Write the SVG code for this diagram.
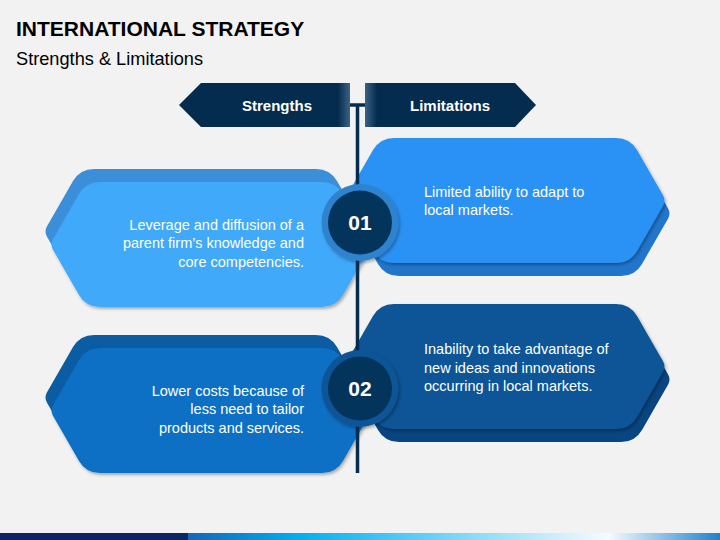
<svg xmlns="http://www.w3.org/2000/svg" width="720" height="540" viewBox="0 0 720 540">
<style>
.title{font-family:"Liberation Sans",Arial,sans-serif;font-weight:bold;font-size:21px;fill:#000}
.sub{font-family:"Liberation Sans",Arial,sans-serif;font-size:18.2px;fill:#000}
.hdr{font-family:"Liberation Sans",Arial,sans-serif;font-weight:bold;font-size:15px;fill:#fff;text-anchor:middle}
.body{font-family:"Liberation Sans",Arial,sans-serif;font-size:14.5px;fill:#fff}
.r{text-anchor:end}
.num{font-family:"Liberation Sans",Arial,sans-serif;font-weight:bold;font-size:21px;fill:#fff;text-anchor:middle}
.line{stroke:#032c4f;stroke-width:3.5;fill:none}
.inner{fill:#03345c}
</style>
<defs>
<path id="hex" d="M-158,-5.2 L-132,-50.4 Q-125,-62.5 -111,-62.5 L111,-62.5 Q125,-62.5 132,-50.4 L158,-5.2 Q161,0 158,5.2 L132,50.4 Q125,62.5 111,62.5 L-111,62.5 Q-125,62.5 -132,50.4 L-158,5.2 Q-161,0 -158,-5.2 Z"/>
<filter id="sh" x="-10%" y="-20%" width="125%" height="145%">
<feDropShadow dx="1.5" dy="2" stdDeviation="1.5" flood-color="#000" flood-opacity="0.3"/>
</filter>
<linearGradient id="gS" x1="179" y1="0" x2="350" y2="0" gradientUnits="userSpaceOnUse">
<stop offset="0" stop-color="#032c4f"/><stop offset="0.93" stop-color="#032c4f"/><stop offset="1" stop-color="#3d6283"/>
</linearGradient>
<linearGradient id="gL" x1="365" y1="0" x2="536" y2="0" gradientUnits="userSpaceOnUse">
<stop offset="0" stop-color="#3d6283"/><stop offset="0.07" stop-color="#032c4f"/><stop offset="1" stop-color="#032c4f"/>
</linearGradient>
<linearGradient id="bar" x1="188" y1="0" x2="720" y2="0" gradientUnits="userSpaceOnUse">
<stop offset="0" stop-color="#1565b8"/><stop offset="0.21" stop-color="#00b0f0"/><stop offset="0.79" stop-color="#f5fbff"/><stop offset="1" stop-color="#1f82cc"/>
</linearGradient>
</defs>
<rect x="0" y="0" width="720" height="540" fill="#f2f2f2"/>
<text class="title" x="16" y="36">INTERNATIONAL STRATEGY</text>
<text class="sub" x="16" y="65">Strengths &amp; Limitations</text>

<g id="node-strengths">
<polygon points="179,105 201,83 350,83 350,127 201,127" fill="url(#gS)"/>
<text class="hdr" x="277" y="111">Strengths</text>
</g>
<g id="node-limitations">
<polygon points="365,83 515,83 536,105 515,127 365,127" fill="url(#gL)"/>
<text class="hdr" x="450" y="111">Limitations</text>
</g>

<g id="node-strength-1">
<use href="#hex" transform="translate(205,231.5)" fill="#3b8fd9"/>
<use href="#hex" transform="translate(211,244.5)" fill="#41a9f9" filter="url(#sh)"/>
<text class="body r" x="304" y="230">Leverage and diffusion of a</text>
<text class="body r" x="304" y="248.3">parent firm’s knowledge and</text>
<text class="body r" x="304" y="266.6">core competencies.</text>
</g>
<g id="node-limitation-1">
<use href="#hex" transform="translate(510,213.5)" fill="#2176cb"/>
<use href="#hex" transform="translate(505,200.5)" fill="#2a92f4" filter="url(#sh)"/>
<text class="body" x="424" y="196.5">Limited ability to adapt to</text>
<text class="body" x="424" y="214.8">local markets.</text>
</g>
<g id="node-strength-2">
<use href="#hex" transform="translate(205,397.5)" fill="#0b5ca3"/>
<use href="#hex" transform="translate(211,410.5)" fill="#0a70c4" filter="url(#sh)"/>
<text class="body r" x="304" y="396">Lower costs because of</text>
<text class="body r" x="304" y="414.3">less need to tailor</text>
<text class="body r" x="304" y="432.6">products and services.</text>
</g>
<g id="node-limitation-2">
<use href="#hex" transform="translate(510,379.5)" fill="#094580"/>
<use href="#hex" transform="translate(505,366.5)" fill="#0b5596" filter="url(#sh)"/>
<text class="body" x="424" y="354.3">Inability to take advantage of</text>
<text class="body" x="424" y="372.6">new ideas and innovations</text>
<text class="body" x="424" y="390.9">occurring in local markets.</text>
</g>

<g id="connectors">
<line class="line" x1="350" y1="105" x2="365" y2="105"/>
<line class="line" x1="357.5" y1="105" x2="357.5" y2="473"/>
</g>

<g id="node-01">
<circle cx="360" cy="222.5" r="38.5" fill="#2f83cf" filter="url(#sh)"/>
<circle class="inner" cx="360" cy="222.5" r="32"/>
<text class="num" x="360" y="230">01</text>
</g>
<g id="node-02">
<circle cx="360" cy="388.5" r="38.5" fill="#0b5596" filter="url(#sh)"/>
<circle class="inner" cx="360" cy="388.5" r="32"/>
<text class="num" x="360" y="396">02</text>
</g>

<rect x="0" y="533" width="188" height="7" fill="#0b2565"/>
<rect x="188" y="533" width="532" height="7" fill="url(#bar)"/>
</svg>
